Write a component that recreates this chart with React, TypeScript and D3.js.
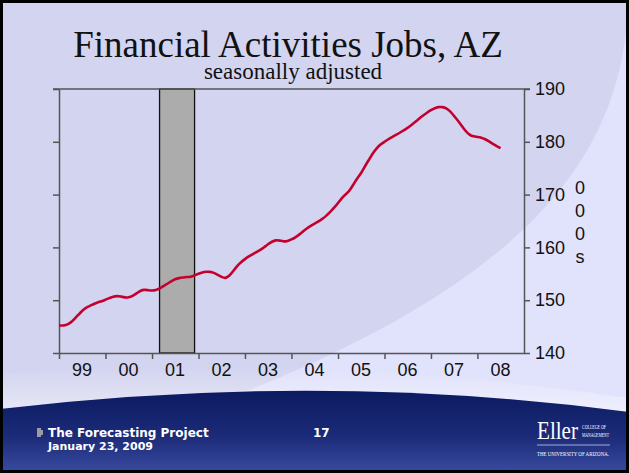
import { useRef, useEffect } from 'react'
import * as d3 from 'd3'

// monthly jobs (thousands), seasonally adjusted, Jan 1999 onward
const jobs1999 = [145.2, 145.2, 145.3, 145.7, 146.4, 147.2, 148.0, 148.6, 148.9, 149.3, 149.6, 149.8]
const jobs2000 = [150.1, 150.4, 150.7, 150.8, 150.7, 150.5, 150.5, 150.8, 151.3, 151.8, 152.0, 151.9]
const jobs2001 = [151.8, 151.9, 152.2, 152.7, 153.1, 153.6, 154.0, 154.2, 154.3, 154.4, 154.4, 154.7]
const jobs2002 = [155.0, 155.3, 155.4, 155.4, 155.2, 154.8, 154.4, 154.1, 154.6, 155.5, 156.5, 157.2]
const jobs2003 = [157.8, 158.3, 158.7, 159.1, 159.5, 160.0, 160.6, 161.1, 161.4, 161.3, 161.1, 161.2]
const jobs2004 = [161.5, 161.9, 162.4, 163.0, 163.6, 164.1, 164.5, 164.9, 165.4, 166.0, 166.7, 167.5]
const jobs2005 = [168.4, 169.4, 170.0, 170.7, 171.9, 173.1, 174.0, 175.4, 176.6, 177.8, 178.8, 179.5]
const jobs2006 = [180.0, 180.5, 180.9, 181.3, 181.7, 182.2, 182.6, 183.2, 183.8, 184.4, 185.0, 185.5]
const jobs2007 = [186.0, 186.4, 186.6, 186.6, 186.4, 185.8, 184.9, 184.0, 183.0, 182.0, 181.3, 181.0]
const jobs2008 = [180.9, 180.8, 180.5, 180.1, 179.6, 179.2, 178.8]

const jobs = [...jobs1999, ...jobs2000, ...jobs2001, ...jobs2002, ...jobs2003,
    ...jobs2004, ...jobs2005, ...jobs2006, ...jobs2007, ...jobs2008]

const yearLabels = ['99', '00', '01', '02', '03', '04', '05', '06', '07', '08']
const yTicks = [140, 150, 160, 170, 180, 190]
const unitLabel = ['0', '0', '0', 's']
const recession = [new Date(2001, 2, 1), new Date(2001, 11, 1)]

const W = 629
const H = 473
const plot = { left: 59, right: 524, top: 89, bottom: 353 }
const axisFont = '"Liberation Sans", Arial, sans-serif'

const App = () => {
    const ref = useRef<SVGSVGElement>(null)

    useEffect(() => {
        const svg = d3.select(ref.current)
        svg.selectAll('*').remove()

        const defs = svg.append('defs')
        const footGrad = defs.append('linearGradient').attr('id', 'foot').attr('x1', 0).attr('y1', 0).attr('x2', 0).attr('y2', 1)
        footGrad.append('stop').attr('offset', '0%').attr('stop-color', '#0b1a60')
        footGrad.append('stop').attr('offset', '55%').attr('stop-color', '#1b2b78')
        footGrad.append('stop').attr('offset', '100%').attr('stop-color', '#3a4aa0')
        const glow = defs.append('linearGradient').attr('id', 'glow').attr('x1', 0).attr('y1', 0).attr('x2', 0).attr('y2', 1)
        glow.append('stop').attr('offset', '0%').attr('stop-color', '#fff').attr('stop-opacity', 0)
        glow.append('stop').attr('offset', '100%').attr('stop-color', '#fff').attr('stop-opacity', 0.45)

        // slide background
        svg.append('rect').attr('width', W).attr('height', H).attr('fill', '#d3d4ef')
        svg.append('path')
            .attr('d', 'M628,0 C625,160 520,280 250,390 L0,430 L0,473 L629,473 L629,0 Z')
            .attr('fill', '#e1e2fb')
        svg.append('path')
            .attr('d', 'M0,409 Q320,371 629,412 L629,398 Q320,352 0,374 Z')
            .attr('fill', 'url(#glow)')
        svg.append('path')
            .attr('d', 'M0,409 Q320,371 629,412 L629,473 L0,473 Z')
            .attr('fill', 'url(#foot)')

        // title
        svg.append('text')
            .attr('x', 288).attr('y', 57)
            .attr('text-anchor', 'middle')
            .attr('font-family', '"Liberation Serif", "Times New Roman", serif')
            .attr('font-size', 37)
            .attr('fill', '#111')
            .text('Financial Activities Jobs, AZ')
        svg.append('text')
            .attr('x', 293).attr('y', 79)
            .attr('text-anchor', 'middle')
            .attr('font-family', '"Liberation Serif", "Times New Roman", serif')
            .attr('font-size', 23)
            .attr('fill', '#111')
            .text('seasonally adjusted')

        const x = d3.scaleTime()
            .domain([new Date(1999, 0, 1), new Date(2009, 0, 1)])
            .range([plot.left, plot.right])
        const y = d3.scaleLinear()
            .domain([140, 190])
            .range([plot.bottom, plot.top])

        const g = svg.append('g')

        g.append('rect')
            .attr('x', x(recession[0]))
            .attr('y', plot.top)
            .attr('width', x(recession[1]) - x(recession[0]))
            .attr('height', plot.bottom - plot.top)
            .attr('fill', '#acacac')
            .attr('stroke', '#111')
            .attr('stroke-width', 1.3)

        const leftAxis = d3.axisLeft(y).tickValues(yTicks).tickSize(6).tickSizeOuter(0).tickFormat(() => '')
        const rightAxis = d3.axisRight(y).tickValues(yTicks).tickSize(6).tickSizeOuter(0).tickPadding(5)
        const bottomAxis = d3.axisBottom(x)
            .tickValues(d3.range(1999, 2009).map(yr => new Date(yr, 0, 1)))
            .tickSize(6).tickSizeOuter(0).tickFormat(() => '')

        const axes = [
            g.append('g').attr('transform', `translate(${plot.left},0)`).call(leftAxis),
            g.append('g').attr('transform', `translate(${plot.right},0)`).call(rightAxis),
            g.append('g').attr('transform', `translate(0,${plot.bottom})`).call(bottomAxis),
        ]
        axes.forEach(a => {
            a.selectAll('path,line').attr('stroke', '#555').attr('stroke-width', 1.5)
            a.selectAll('text').attr('font-family', axisFont).attr('font-size', 18).attr('fill', '#111')
        })

        // top border of plot area
        g.append('line')
            .attr('x1', plot.left - 6).attr('x2', plot.right + 6)
            .attr('y1', plot.top).attr('y2', plot.top)
            .attr('stroke', '#555').attr('stroke-width', 1.5)

        g.selectAll('.yr')
            .data(yearLabels)
            .enter()
            .append('text')
            .attr('x', (_, i) => x(new Date(1999 + i, 6, 1)))
            .attr('y', 376)
            .attr('text-anchor', 'middle')
            .attr('font-family', axisFont)
            .attr('font-size', 18)
            .attr('fill', '#111')
            .text(d => d)

        g.selectAll('.unit')
            .data(unitLabel)
            .enter()
            .append('text')
            .attr('x', 580)
            .attr('y', (_, i) => 194 + i * 23)
            .attr('text-anchor', 'middle')
            .attr('font-family', axisFont)
            .attr('font-size', 18)
            .attr('fill', '#111')
            .text(d => d)

        const line = d3.line<number>()
            .x((_, i) => x(new Date(1999, i, 1)))
            .y(d => y(d))
            .curve(d3.curveBasis)

        g.append('path')
            .datum(jobs)
            .attr('d', line)
            .attr('fill', 'none')
            .attr('stroke', '#c4002f')
            .attr('stroke-width', 2.6)

        // footer
        const foot = svg.append('g').attr('fill', '#fff').attr('font-family', '"DejaVu Sans", Verdana, sans-serif').attr('font-weight', 'bold').attr('font-size', 12)
        foot.append('rect').attr('x', 37).attr('y', 428).attr('width', 4).attr('height', 9).attr('fill', '#9a9aa8')
        foot.append('rect').attr('x', 41).attr('y', 430).attr('width', 2).attr('height', 5).attr('fill', '#9a9aa8')
        foot.append('text').attr('x', 48).attr('y', 437).text('The Forecasting Project')
        foot.append('text').attr('x', 48).attr('y', 450).attr('font-size', 11).text('January 23, 2009')
        foot.append('text').attr('x', 313).attr('y', 437).text('17')

        const logo = svg.append('g').attr('fill', '#fff')
        logo.append('text').attr('x', 537).attr('y', 439)
            .attr('font-family', '"Liberation Serif", serif').attr('font-size', 25)
            .attr('textLength', 41).attr('lengthAdjust', 'spacingAndGlyphs').text('Eller')
        logo.append('text').attr('x', 582).attr('y', 429)
            .attr('font-family', '"Liberation Serif", serif').attr('font-size', 6)
            .attr('textLength', 24).attr('lengthAdjust', 'spacingAndGlyphs').text('COLLEGE OF')
        logo.append('text').attr('x', 582).attr('y', 437)
            .attr('font-family', '"Liberation Serif", serif').attr('font-size', 6)
            .attr('textLength', 27).attr('lengthAdjust', 'spacingAndGlyphs').text('MANAGEMENT')
        logo.append('line').attr('x1', 537).attr('x2', 610).attr('y1', 445).attr('y2', 445)
            .attr('stroke', '#c8cce8').attr('stroke-width', 0.8)
        logo.append('text').attr('x', 537).attr('y', 456)
            .attr('font-family', '"Liberation Serif", serif').attr('font-size', 7)
            .attr('textLength', 72).attr('lengthAdjust', 'spacingAndGlyphs').text('THE UNIVERSITY OF ARIZONA.')

        svg.append('rect').attr('x', 1.5).attr('y', 1.5).attr('width', W - 3).attr('height', H - 3)
            .attr('fill', 'none').attr('stroke', '#000').attr('stroke-width', 3)
    }, [])

    return (
        <svg ref={ref} width={W} height={H} style={{ position: 'fixed', left: 0, top: 0, display: 'block' }} />
    )
}

export default App
